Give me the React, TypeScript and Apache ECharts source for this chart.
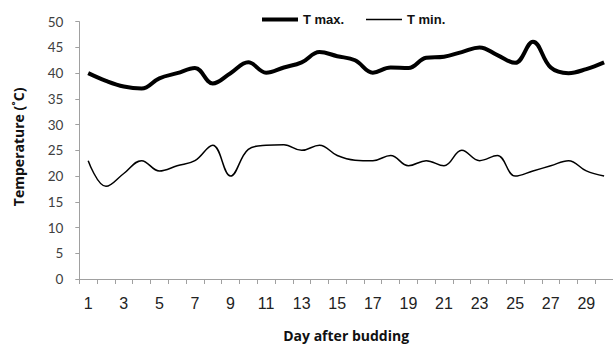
import React, { useEffect, useRef } from "react";
import * as echarts from "echarts";

const days: string[] = [
  "1", "2", "3", "4", "5", "6", "7", "8", "9", "10",
  "11", "12", "13", "14", "15", "16", "17", "18", "19", "20",
  "21", "22", "23", "24", "25", "26", "27", "28", "29", "30",
];
const tMax: number[] = [
  40, 38.5, 37.4, 37, 39, 40, 41, 38, 40, 42.1,
  40.1, 41.1, 42.1, 44.1, 43.3, 42.5, 40.1, 41.1, 41, 43,
  43.2, 44.1, 45, 43.5, 42, 46.1, 41.1, 40, 40.8, 42.1,
];
const tMin: number[] = [
  23, 18, 20.5, 23, 21, 22, 23, 26, 20, 25.2,
  26, 26.1, 25, 26, 24, 23.1, 23, 24, 22, 23,
  22, 25, 23, 24, 20, 21, 22, 23, 21, 20,
];
const seriesNames: string[] = ["T max.", "T min."];

const legendText = {
  fontFamily: "'Liberation Sans Narrow', 'Liberation Sans', Arial, sans-serif",
  fontWeight: "bold",
  fontSize: 13,
  color: "#111",
};
const titleFont = {
  fontFamily: "'Open Sans', Lato, sans-serif",
  fontWeight: "bold",
  fontSize: 14,
  color: "#111",
};

export default function App() {
  const ref = useRef<HTMLDivElement>(null);
  useEffect(() => {
    if (!ref.current) return;
    const chart = echarts.init(ref.current, undefined, { renderer: "svg" });
    chart.setOption({
      animation: false,
      backgroundColor: "#ffffff",
      legend: [
        {
          left: 257,
          top: 8,
          icon: "rect",
          itemWidth: 36,
          itemHeight: 4,
          itemGap: 10,
          textStyle: legendText,
          itemStyle: { color: "#000" },
          data: [seriesNames[0]],
        },
        {
          left: 361,
          top: 8,
          icon: "rect",
          itemWidth: 36,
          itemHeight: 1.5,
          itemGap: 10,
          textStyle: legendText,
          itemStyle: { color: "#000" },
          data: [seriesNames[1]],
        },
      ],
      grid: { left: 79.3, top: 21.7, width: 535, height: 261.6, containLabel: false },
      xAxis: {
        type: "category",
        data: days,
        boundaryGap: true,
        name: "Day after budding",
        nameLocation: "middle",
        nameGap: 49,
        nameTextStyle: titleFont,
        axisLine: { lineStyle: { color: "#a0a0a0", width: 1 } },
        axisTick: { show: true, interval: 0, length: 5, lineStyle: { color: "#a0a0a0" } },
        axisLabel: {
          interval: 1,
          margin: 16,
          fontFamily: "'Liberation Sans', Arial, sans-serif",
          fontSize: 16,
          color: "#222",
        },
        splitLine: { show: false },
      },
      yAxis: {
        type: "value",
        min: 0,
        max: 50,
        interval: 5,
        name: "Temperature (˚C)",
        nameLocation: "middle",
        nameGap: 54,
        nameRotate: 90,
        nameTextStyle: { ...titleFont, padding: [0, 0, 0, 7] },
        axisLine: { show: true, lineStyle: { color: "#a0a0a0", width: 1 } },
        axisTick: { show: true, length: 4, lineStyle: { color: "#a0a0a0" } },
        axisLabel: {
          margin: 16,
          fontFamily: "Lato, 'Open Sans', sans-serif",
          fontSize: 13.5,
          color: "#404040",
        },
        splitLine: { show: false },
      },
      series: [
        {
          name: seriesNames[0],
          type: "line",
          data: tMax,
          smooth: 0.4,
          showSymbol: false,
          symbol: "none",
          lineStyle: { color: "#000", width: 4 },
          itemStyle: { color: "#000" },
        },
        {
          name: seriesNames[1],
          type: "line",
          data: tMin,
          smooth: 0.4,
          showSymbol: false,
          symbol: "none",
          lineStyle: { color: "#000", width: 1.5 },
          itemStyle: { color: "#000" },
        },
      ],
    });
    return () => chart.dispose();
  }, []);
  return (
    <div
      ref={ref}
      style={{ position: "fixed", left: 0, top: 0, width: 613, height: 347, background: "#fff" }}
    />
  );
}
